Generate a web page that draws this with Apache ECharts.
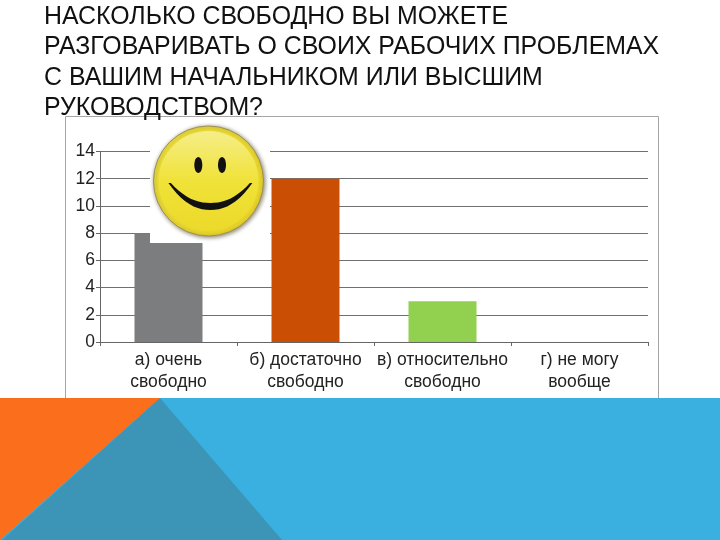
<!DOCTYPE html>
<html>
<head>
<meta charset="utf-8">
<style>
html, body { margin: 0; padding: 0; background: #fff; }
#chart { width: 720px; height: 540px; }
</style>
<script src="https://cdn.jsdelivr.net/npm/echarts@6/dist/echarts.min.js"></script>
</head>
<body>
<div id="chart"></div>
<script>
var titleLines = [
    'НАСКОЛЬКО СВОБОДНО ВЫ МОЖЕТЕ',
    'РАЗГОВАРИВАТЬ О СВОИХ РАБОЧИХ ПРОБЛЕМАХ',
    'С ВАШИМ НАЧАЛЬНИКОМ ИЛИ ВЫСШИМ',
    'РУКОВОДСТВОМ?'
];
var categories = ['а) очень\nсвободно', 'б) достаточно\nсвободно', 'в) относительно\nсвободно', 'г) не могу\nвообще'];
var values = [8, 12, 3, 0];
var barColors = ['#7b7d7f', '#cb4e05', '#92d050', '#3aaee0'];

// улыбка: полумесяц между двумя кривыми
function smilePoints() {
    var pts = [], t;
    for (t = -1; t <= 1.001; t += 0.1) {
        pts.push([210.4 + 42 * t, 183 + 27 * (1 - Math.pow(Math.abs(t), 2.2))]);
    }
    for (t = 1; t >= -1.001; t -= 0.1) {
        pts.push([210.4 + 39.5 * t, 183 + 20 * (1 - Math.pow(Math.abs(t), 2.2))]);
    }
    return pts;
}

var myChart = echarts.init(document.getElementById('chart'));

var option = {
    backgroundColor: '#fff',
    animation: false,
    title: {
        text: titleLines.join('\n'),
        left: 39,
        top: -3.5,
        textStyle: {
            fontFamily: 'Liberation Sans',
            fontWeight: 'normal',
            fontSize: 24.9,
            lineHeight: 30.6,
            color: '#111'
        }
    },
    grid: {left: 100, right: 72, top: 151.5, bottom: 198},
    xAxis: {
        type: 'category',
        data: categories,
        axisLine: {lineStyle: {color: '#666', width: 1}},
        axisTick: {show: true, length: 4, lineStyle: {color: '#666'}},
        axisLabel: {
            fontFamily: 'Liberation Sans',
            fontSize: 17.5,
            lineHeight: 22,
            color: '#222',
            margin: 7,
            interval: 0
        }
    },
    yAxis: {
        type: 'value',
        min: 0,
        max: 14,
        interval: 2,
        axisLine: {show: true, lineStyle: {color: '#666', width: 1}},
        axisTick: {show: true, length: 4, lineStyle: {color: '#666'}},
        splitLine: {lineStyle: {color: '#707070', width: 1}},
        axisLabel: {
            fontFamily: 'Liberation Sans',
            fontSize: 17.5,
            color: '#222',
            margin: 5,
            padding: [2, 0, 0, 0]
        }
    },
    series: [{
        type: 'bar',
        barWidth: 68,
        data: values.map(function (v, i) {
            return {value: v, itemStyle: {color: barColors[i]}};
        })
    }],
    graphic: [
        // рамка диаграммы
        {type: 'rect', z: 1, shape: {x: 65.5, y: 116.5, width: 593, height: 290},
            style: {fill: 'none', stroke: '#a6a6a6', lineWidth: 1}},
        // нижняя полоса слайда
        {type: 'polygon', z: 20, shape: {points: [[0, 398], [720, 398], [720, 540], [0, 540]]},
            style: {fill: '#39b0e0'}},
        {type: 'polygon', z: 21, shape: {points: [[0, 398], [160, 398], [0, 540]]},
            style: {fill: '#fb6e1c'}},
        {type: 'polygon', z: 21, shape: {points: [[160, 398], [282, 540], [2, 540]]},
            style: {fill: '#3c95b6'}},
        // смайлик
        {type: 'rect', z: 30, shape: {x: 150, y: 124, width: 120, height: 119},
            style: {fill: '#fff'}},
        {type: 'circle', z: 31, shape: {cx: 208.5, cy: 181, r: 55},
            style: {
                fill: new echarts.graphic.LinearGradient(0, 0, 1, 1, [
                    {offset: 0, color: '#f0e440'},
                    {offset: 1, color: '#e6d024'}
                ]),
                stroke: '#9c9058',
                lineWidth: 1,
                shadowBlur: 4,
                shadowOffsetX: 1,
                shadowOffsetY: 1,
                shadowColor: 'rgba(60,50,20,0.6)'
            }},
        {type: 'circle', z: 32, shape: {cx: 208.5, cy: 181, r: 50},
            style: {
                fill: new echarts.graphic.LinearGradient(0, 0, 0, 1, [
                    {offset: 0, color: '#f5ee88'},
                    {offset: 0.5, color: '#f0e238'},
                    {offset: 1, color: '#ecda2a'}
                ])
            }},
        {type: 'ellipse', z: 33, shape: {cx: 198.3, cy: 165, rx: 4, ry: 8}, style: {fill: '#111'}},
        {type: 'ellipse', z: 33, shape: {cx: 222, cy: 165, rx: 4, ry: 8}, style: {fill: '#111'}},
        {type: 'polygon', z: 33, shape: {points: smilePoints()}, style: {fill: '#111'}}
    ]
};

myChart.setOption(option);
</script>
</body>
</html>
